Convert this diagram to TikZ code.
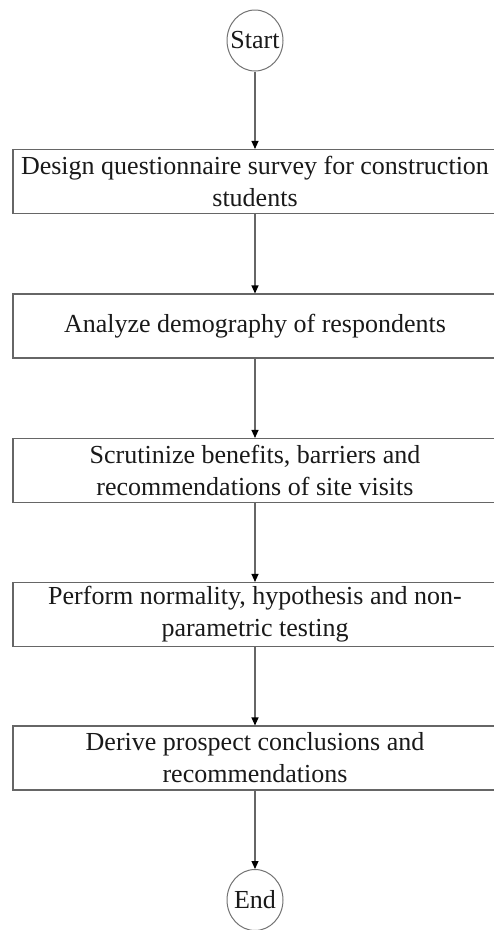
\documentclass[tikz,border=0pt]{standalone}
\usepackage{fontspec}
\setmainfont{Liberation Serif}
\usetikzlibrary{arrows.meta,shapes.geometric}

\begin{document}
\begin{tikzpicture}[x=1pt, y=1pt,
  box/.style={draw=black!60, line width=1.1pt, minimum width=484pt, minimum height=64pt, align=center, inner sep=0pt, text=black!90, font=\fontsize{26}{32}\selectfont},
  term/.style={draw=black!55, ellipse, line width=1pt, minimum width=56pt, minimum height=61pt, inner sep=0pt, text=black!90, font=\fontsize{26}{32}\selectfont},
  arrow/.style={-{Triangle[length=8pt,width=7pt,color=black]}, draw=black!60, line width=1.1pt}
]
\useasboundingbox (0,0) rectangle (494,-930);
\node[term] (start) at (255,-40.5) {\makebox[0pt]{Start}};
\node[box] (design) at (255,-181.5) {Design questionnaire survey for construction\\students};
\node[box] (demo) at (255,-326) {Analyze demography of respondents};
\node[box] (scrut) at (255,-470.5) {Scrutinize benefits, barriers and\\recommendations of site visits};
\node[box] (test) at (255,-614.5) {Perform normality, hypothesis and non-\\parametric testing};
\node[box] (concl) at (255,-758) {Derive prospect conclusions and\\recommendations};
\node[term] (end) at (255,-900) {\makebox[0pt]{End}};
\draw[arrow] (start) -- (design);
\draw[arrow] (design) -- (demo);
\draw[arrow] (demo) -- (scrut);
\draw[arrow] (scrut) -- (test);
\draw[arrow] (test) -- (concl);
\draw[arrow] (concl) -- (end);
\end{tikzpicture}
\end{document}
